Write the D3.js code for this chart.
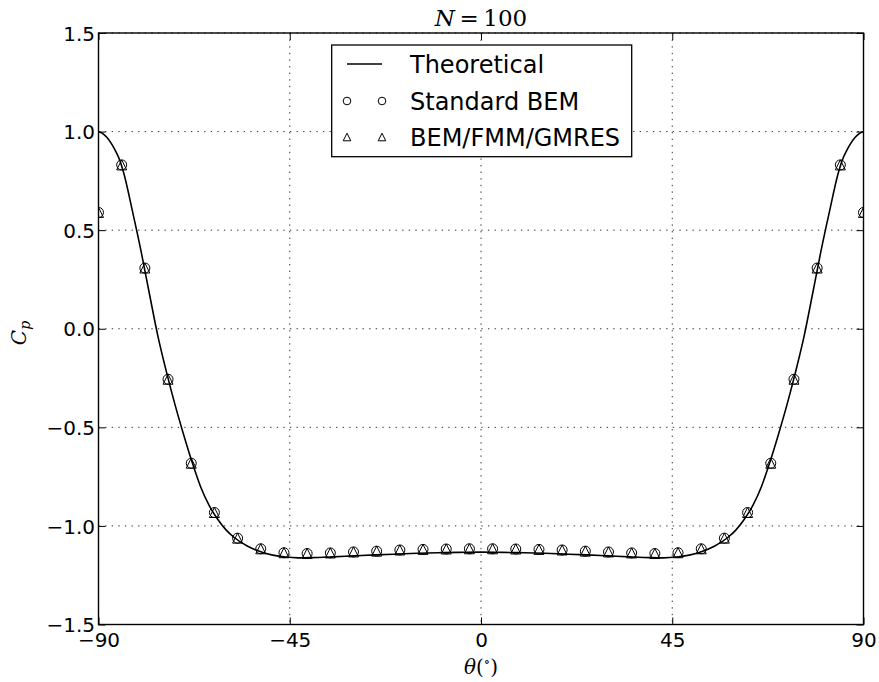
<!DOCTYPE html>
<html><head><meta charset="utf-8">
<script src="https://cdn.jsdelivr.net/npm/d3@7"></script>
<style>body{margin:0;background:#fff}</style>
</head><body><svg id="c" width="879" height="682"></svg>
<script>
// ---- data ----
const thetaTheory = [-90,-89,-88,-87,-86,-85,-84,-82,-80,-78,-76,-74,-72,-70,-68,-66,-64,-62,-60,-58,-55,-52,-49,-46,-43,-40,-35,-30,-25,-20,-15,-10,-5,
  0,5,10,15,20,25,30,35,40,43,46,49,52,55,58,60,62,64,66,68,70,72,74,76,78,80,82,84,85,86,87,88,89,90];
const cpTheory = [1.000,0.990,0.970,0.940,0.902,0.855,0.785,0.595,0.395,0.175,-0.040,-0.220,-0.385,-0.535,-0.675,-0.800,-0.895,-0.965,-1.020,-1.060,-1.102,-1.130,-1.148,-1.158,-1.162,-1.161,-1.157,-1.152,-1.147,-1.143,-1.139,-1.136,-1.134,
  -1.133,-1.134,-1.136,-1.139,-1.143,-1.147,-1.152,-1.157,-1.161,-1.162,-1.158,-1.148,-1.130,-1.102,-1.060,-1.020,-0.965,-0.895,-0.800,-0.675,-0.535,-0.385,-0.220,-0.040,0.175,0.395,0.595,0.785,0.855,0.902,0.940,0.970,0.990,1.000];
const thetaPts = [-90.0,-84.55,-79.09,-73.64,-68.18,-62.73,-57.27,-51.82,-46.36,-40.91,-35.45,-30.0,-24.55,-19.09,-13.64,-8.18,-2.73,
  2.73,8.18,13.64,19.09,24.55,30.0,35.45,40.91,46.36,51.82,57.27,62.73,68.18,73.64,79.09,84.55,90.0];
const cpStandard = [0.59,0.831,0.308,-0.256,-0.682,-0.932,-1.062,-1.116,-1.136,-1.140,-1.137,-1.132,-1.128,-1.122,-1.119,-1.117,-1.116,
  -1.116,-1.117,-1.119,-1.122,-1.128,-1.132,-1.137,-1.140,-1.136,-1.116,-1.062,-0.932,-0.682,-0.256,0.308,0.831,0.59];
const cpFmm = [0.59,0.831,0.308,-0.256,-0.682,-0.932,-1.062,-1.116,-1.136,-1.140,-1.137,-1.132,-1.128,-1.122,-1.119,-1.117,-1.116,
  -1.116,-1.117,-1.119,-1.122,-1.128,-1.132,-1.137,-1.140,-1.136,-1.116,-1.062,-0.932,-0.682,-0.256,0.308,0.831,0.59];
const xTicks = [-90,-45,0,45,90];
const yTicks = [-1.5,-1.0,-0.5,0.0,0.5,1.0,1.5];
const legendLabels = ["Theoretical","Standard BEM","BEM/FMM/GMRES"];

// ---- layout ----
const L=98.5, R=863.5, T=33, B=624.5;
const svg = d3.select("#c");
const x = d3.scaleLinear().domain([-90,90]).range([L,R]);
const y = d3.scaleLinear().domain([-1.5,1.5]).range([B,T]);
const sans = "'DejaVu Sans', sans-serif";
const serif = "'DejaVu Serif', serif";

svg.append("rect").attr("width",879).attr("height",682).attr("fill","#fff");
svg.append("defs").append("clipPath").attr("id","clip")
  .append("rect").attr("x",L).attr("y",T).attr("width",R-L).attr("height",B-T);

// grid
const grid = svg.append("g").attr("stroke","#000").attr("stroke-width",0.8).attr("stroke-dasharray","1.4,5.2");
grid.selectAll(".gx").data(xTicks).join("line")
  .attr("x1",d=>x(d)).attr("x2",d=>x(d)).attr("y1",T).attr("y2",B);
grid.selectAll(".gy").data(yTicks).join("line")
  .attr("x1",L).attr("x2",R).attr("y1",d=>y(d)).attr("y2",d=>y(d));

// axes with inward ticks
const fmtY = d3.format(".1f"), fmtX = d3.format("d");
const ax = svg.append("g").attr("transform",`translate(0,${B})`)
  .call(d3.axisBottom(x).tickValues(xTicks).tickFormat(fmtX).tickSizeInner(-7).tickSizeOuter(0).tickPadding(8.5));
const ay = svg.append("g").attr("transform",`translate(${L},0)`)
  .call(d3.axisLeft(y).tickValues(yTicks).tickFormat(fmtY).tickSizeInner(-7).tickSizeOuter(0).tickPadding(3.5));
const at = svg.append("g").attr("transform",`translate(0,${T})`)
  .call(d3.axisTop(x).tickValues(xTicks).tickFormat("").tickSizeInner(-7).tickSizeOuter(0));
const ar = svg.append("g").attr("transform",`translate(${R},0)`)
  .call(d3.axisRight(y).tickValues(yTicks).tickFormat("").tickSizeInner(-7).tickSizeOuter(0));
[ax,ay,at,ar].forEach(g=>{
  g.select(".domain").remove();
  g.selectAll(".tick line").attr("stroke","#000").attr("stroke-width",1);
  g.selectAll(".tick text").attr("font-family",sans).attr("font-size",20).attr("fill","#000");
});
ay.selectAll(".tick text").attr("dy","0.36em");

// plot content
const plot = svg.append("g").attr("clip-path","url(#clip)");
const line = d3.line().x((d,i)=>x(thetaTheory[i])).y(d=>y(d)).curve(d3.curveMonotoneX);
plot.append("path").datum(cpTheory).attr("d",line)
  .attr("fill","none").attr("stroke","#000").attr("stroke-width",1.6);

const ms = 5;
plot.selectAll(".circ").data(cpStandard).join("circle")
  .attr("cx",(d,i)=>x(thetaPts[i])).attr("cy",d=>y(d)).attr("r",ms)
  .attr("fill","none").attr("stroke","#000").attr("stroke-width",1);
const tri = (cx,cy,s)=>`M${cx},${cy-s}L${cx-s},${cy+s}L${cx+s},${cy+s}Z`;
plot.selectAll(".tri").data(cpFmm).join("path")
  .attr("d",(d,i)=>tri(x(thetaPts[i]),y(d),ms))
  .attr("fill","none").attr("stroke","#000").attr("stroke-width",1);

// frame
svg.append("rect").attr("x",L).attr("y",T).attr("width",R-L).attr("height",B-T)
  .attr("fill","none").attr("stroke","#000").attr("stroke-width",1.4);

// legend
const lg = svg.append("g");
lg.append("rect").attr("x",331.7).attr("y",45).attr("width",300).attr("height",111.7)
  .attr("fill","#fff").attr("stroke","#000").attr("stroke-width",1.3);
const rowsY = [64,101,137];
const mx1 = 347, mx2 = 382;
lg.append("line").attr("x1",mx1).attr("x2",mx2).attr("y1",rowsY[0]).attr("y2",rowsY[0])
  .attr("stroke","#000").attr("stroke-width",1.6);
[mx1,mx2].forEach(mx=>{
  lg.append("circle").attr("cx",mx).attr("cy",rowsY[1]).attr("r",3.8)
    .attr("fill","none").attr("stroke","#000").attr("stroke-width",1);
  lg.append("path").attr("d",tri(mx,rowsY[2],3.8))
    .attr("fill","none").attr("stroke","#000").attr("stroke-width",1);
});
lg.selectAll(".lt").data(legendLabels).join("text")
  .attr("x",410).attr("y",(d,i)=>rowsY[i]+9)
  .attr("font-family",sans).attr("font-size",24).attr("fill","#000").text(d=>d);

// title
const title = svg.append("text").attr("x",481).attr("y",26).attr("text-anchor","middle")
  .attr("font-family",serif).attr("font-size",23).attr("fill","#000");
title.append("tspan").attr("font-style","italic").text("N");
title.append("tspan").text("\u2009=\u2009100");

// x label
const xl = svg.append("text").attr("x",481).attr("y",674).attr("text-anchor","middle")
  .attr("font-family",serif).attr("font-size",20).attr("fill","#000");
xl.append("tspan").attr("font-style","italic").text("θ");
xl.append("tspan").text("(");
xl.append("tspan").attr("font-size",13).attr("dy",-8).text("∘");
xl.append("tspan").attr("dy",8).text(")");

// y label
const yl = svg.append("text").attr("transform","translate(26,333) rotate(-90)").attr("text-anchor","middle")
  .attr("font-family",serif).attr("font-size",20).attr("fill","#000");
yl.append("tspan").attr("font-style","italic").text("C");
yl.append("tspan").attr("font-style","italic").attr("font-size",14).attr("dy",4).text("p");
</script></body></html>
